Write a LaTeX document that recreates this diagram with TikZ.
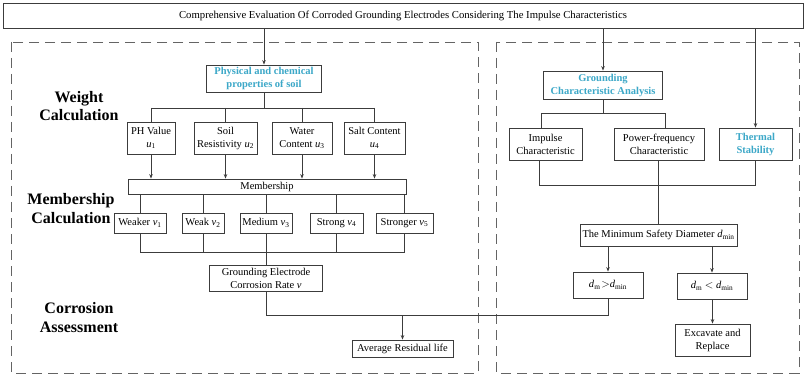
\documentclass[tikz,border=0pt]{standalone}
\usepackage{fontspec}
\setmainfont{Liberation Serif}
\usetikzlibrary{arrows.meta}
\definecolor{boxgray}{RGB}{60,60,60}
\definecolor{dashgray}{RGB}{100,100,100}
\definecolor{cyantxt}{RGB}{60,168,200}
\newcommand{\iv}[1]{\textit{v}\textsubscript{#1}}
\newcommand{\iu}[1]{\textit{u}\textsubscript{#1}}
\begin{document}
\begin{tikzpicture}[x=1pt,y=-1pt,
  box/.style={draw=boxgray, line width=0.8pt, fill=white, inner sep=1pt, align=center,
    font=\fontsize{10.5}{13}\selectfont, anchor=center},
  hl/.style={text=cyantxt, font=\bfseries\fontsize{10.5}{13}\selectfont},
  conn/.style={draw=boxgray, line width=0.8pt},
  arr/.style={conn, -{Stealth[length=4.5pt,width=3.5pt]}},
  frame/.style={draw=dashgray, line width=0.9pt, dash pattern=on 10pt off 6pt},
  side/.style={font=\bfseries\fontsize{16}{18.5}\selectfont, align=center}]
\useasboundingbox (0,0) rectangle (809,377);
\fill[white] (0,0) rectangle (809,377);
% frames
\draw[frame] (11,42) rectangle (478,373);
\draw[frame] (496,42) rectangle (799,373);
% title
\node[box, minimum width=800pt, minimum height=25pt, font=\fontsize{10.7}{12}\selectfont] (title) at (403,15.5)
  {Comprehensive Evaluation Of Corroded Grounding Electrodes Considering The Impulse Characteristics};
% side labels
\node[side] (lw) at (79,106) {Weight\\Calculation};
\node[side] (lm) at (71,208.5) {Membership\\Calculation};
\node[side] (lc) at (79,317.5) {Corrosion\\Assessment};
% left nodes
\node[box, hl, minimum width=115pt, minimum height=27pt] (phys) at (264,78.5) {Physical and chemical\\properties of soil};
\node[box, minimum width=48pt, minimum height=32pt] (ph) at (151,138) {PH Value\\\iu{1}};
\node[box, minimum width=63pt, minimum height=32pt] (soil) at (225.5,138) {Soil\\Resistivity \iu{2}};
\node[box, minimum width=60pt, minimum height=32pt] (water) at (302,138) {Water\\Content \iu{3}};
\node[box, minimum width=61pt, minimum height=32pt] (salt) at (374.5,138) {Salt Content\\\iu{4}};
\node[box, minimum width=278pt, minimum height=15pt, inner sep=0pt] (memb) at (267,186.5) {Membership};
\node[box, minimum width=52pt, minimum height=20pt] (weaker) at (140,223) {Weaker \iv{1}};
\node[box, minimum width=42pt, minimum height=20pt] (weak) at (203,223) {Weak \iv{2}};
\node[box, minimum width=52pt, minimum height=20pt] (medium) at (266,223) {Medium \iv{3}};
\node[box, minimum width=53pt, minimum height=20pt] (strong) at (336.5,223) {Strong \iv{4}};
\node[box, minimum width=57pt, minimum height=20pt] (stronger) at (404.5,223) {Stronger \iv{5}};
\node[box, minimum width=113pt, minimum height=26pt] (gec) at (266,278) {Grounding Electrode\\Corrosion Rate \textit{v}};
\node[box, minimum width=101pt, minimum height=17pt] (avg) at (402.5,348.5) {Average Residual life};
% right nodes
\node[box, hl, minimum width=119pt, minimum height=28pt] (gca) at (603,85) {Grounding\\Characteristic Analysis};
\node[box, minimum width=73pt, minimum height=32pt] (imp) at (545.5,144) {Impulse\\Characteristic};
\node[box, minimum width=90pt, minimum height=32pt] (pow) at (659,144) {Power-frequency\\Characteristic};
\node[box, hl, minimum width=73pt, minimum height=32pt] (therm) at (755.5,144) {Thermal\\Stability};
\node[box, minimum width=157pt, minimum height=22pt] (mins) at (658.5,235) {The Minimum Safety Diameter \textit{d}\textsubscript{min}};
\node[box, minimum width=70pt, minimum height=26pt] (dgt) at (608,285) {\textit{d}\textsubscript{m} $\!>$\textit{d}\textsubscript{min}};
\node[box, minimum width=70pt, minimum height=26pt] (dlt) at (712,286) {\textit{d}\textsubscript{m} $<$ \textit{d}\textsubscript{min}};
\node[box, minimum width=75pt, minimum height=32pt] (exc) at (712.5,340) {Excavate and\\Replace};
% bus coordinates
\coordinate (b1) at (0,108);
\coordinate (b2) at (0,252);
\coordinate (b3) at (0,315);
\coordinate (b4) at (0,113);
\coordinate (b5) at (0,185);
% left connectors
\draw[arr] (title.south -| phys.north) -- (phys.north);
\draw[conn] (phys.south) -- (phys.south |- b1);
\draw[conn] (ph.north |- b1) -- (salt.north |- b1);
\foreach \n in {ph,soil,water,salt}{
  \draw[conn] (\n.north |- b1) -- (\n.north);
  \draw[arr] (\n.south) -- (\n.south |- memb.north);
}
\foreach \n in {weaker,weak,medium,strong,stronger}{
  \draw[conn] (\n.north |- memb.south) -- (\n.north);
  \draw[conn] (\n.south) -- (\n.south |- b2);
}
\draw[conn] (weaker.south |- b2) -- (stronger.south |- b2);
\draw[conn] (medium.south |- b2) -- (gec.north);
\draw[conn] (gec.south) -- (gec.south |- b3) -- (dgt.south |- b3) -- (dgt.south);
\draw[arr] (avg.north |- b3) -- (avg.north);
% right connectors
\draw[arr] (title.south -| gca.north) -- (gca.north);
\draw[arr] (title.south -| therm.north) -- (therm.north);
\draw[conn] (gca.south) -- (gca.south |- b4);
\coordinate (ix) at (541,0);
\coordinate (px) at (665,0);
\draw[conn] (ix |- imp.north) -- (ix |- b4) -- (px |- b4) -- (px |- pow.north);
\coordinate (ix2) at (539,0);
\draw[conn] (ix2 |- imp.south) -- (ix2 |- b5) -- (therm.south |- b5) -- (therm.south);
\draw[conn] (pow.south -| mins.north) -- (mins.north);
\draw[arr] (mins.south -| dgt.north) -- (dgt.north);
\draw[arr] (mins.south -| dlt.north) -- (dlt.north);
\draw[arr] (dlt.south -| exc.north) -- (exc.north);
\end{tikzpicture}
\end{document}
